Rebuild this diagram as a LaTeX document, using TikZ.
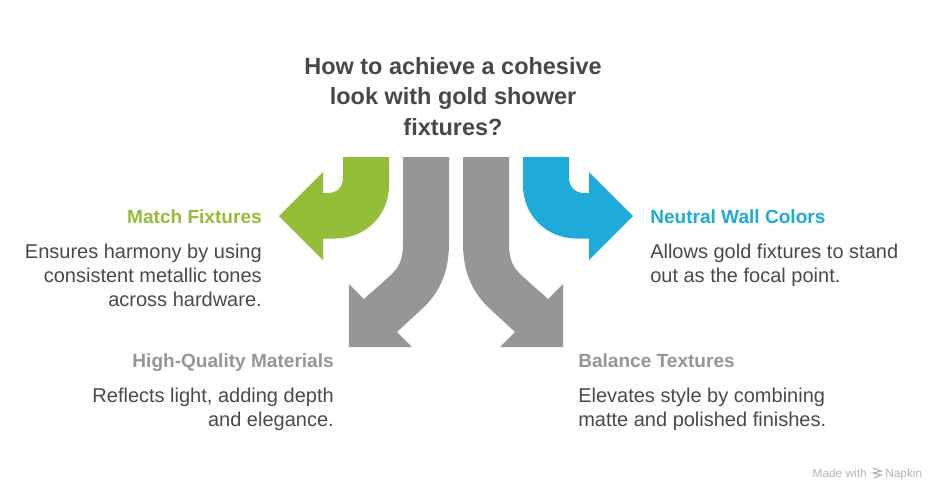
\documentclass[tikz,border=0pt]{standalone}
\usepackage{fontspec}
\setmainfont{Liberation Sans}
\usetikzlibrary{positioning}
\definecolor{inkdark}{HTML}{484848}
\definecolor{inkbody}{HTML}{4A4A4A}
\definecolor{goldgreen}{HTML}{94BE37}
\definecolor{wallblue}{HTML}{1EABDA}
\definecolor{midgray}{HTML}{969696}
\definecolor{markgray}{HTML}{B4B4B4}
\begin{document}
\begin{tikzpicture}[x=0.75pt,y=-0.75pt,
 title/.style={font=\fontsize{17.6}{23}\selectfont\bfseries,text=inkdark,align=center,inner sep=0pt},
 head/.style={font=\fontsize{14.3}{18}\selectfont\bfseries,inner sep=0pt},
 body/.style={font=\fontsize{15}{18}\selectfont,text=inkbody,inner sep=0pt},
 band/.style={fill,draw=none}]
\useasboundingbox (0,0) rectangle (936,490);
\fill[white] (0,0) rectangle (936,490);
\node[title,anchor=north] (ttl) at (453,57) {How to achieve a cohesive\\look with gold shower\\fixtures?};
% four arrows
\path[band,goldgreen] (343,157) -- (343,178) .. controls (343,187) and (337,193) .. (328,193) -- (323,193) -- (323,172) -- (279,216) -- (323,260) -- (323,238.5) -- (335,238.5) .. controls (366,238.5) and (389,215) .. (389,185) -- (389,157) -- cycle;
\path[band,wallblue] (569,157) -- (569,178) .. controls (569,187) and (575,193) .. (584,193) -- (589,193) -- (589,172) -- (633,216) -- (589,260) -- (589,238.5) -- (577,238.5) .. controls (546,238.5) and (523,215) .. (523,185) -- (523,157) -- cycle;
\path[band,midgray] (403,157) -- (403,243) .. controls (403,256) and (401,265) .. (392,274) -- (364,299) -- (349,284) -- (349,347) -- (412,347) -- (397,332) -- (425,306) .. controls (441,290) and (449,270) .. (449,243) -- (449,157) -- cycle;
\path[band,midgray] (509,157) -- (509,243) .. controls (509,256) and (511,265) .. (520,274) -- (548,299) -- (563,284) -- (563,347) -- (500,347) -- (515,332) -- (487,306) .. controls (471,290) and (463,270) .. (463,243) -- (463,157) -- cycle;
% left column
\node[head,text=goldgreen,anchor=base east] (mh) at (262,223) {Match Fixtures};
\node[body,align=right,anchor=north east] (mb) at (262,244) {Ensures harmony by using\\consistent metallic tones\\across hardware.};
\node[head,text=midgray,anchor=base east] (qh) at (334,367) {High-Quality Materials};
\node[body,align=right,anchor=north east] (qb) at (334,388) {Reflects light, adding depth\\and elegance.};
% right column
\node[head,text=wallblue,anchor=base west] (nh) at (650,223) {Neutral Wall Colors};
\node[body,align=left,anchor=north west] (nb) at (650,244) {Allows gold fixtures to stand\\out as the focal point.};
\node[head,text=midgray,anchor=base west] (bh) at (578,367) {Balance Textures};
\node[body,align=left,anchor=north west] (bb) at (578,388) {Elevates style by combining\\matte and polished finishes.};
% footer
\node[font=\fontsize{8.9}{10}\selectfont,text=markgray,anchor=base east,inner sep=0pt] (mw) at (867,477) {Made with};
\node[font=\fontsize{8.9}{10}\selectfont,text=markgray,anchor=base west,inner sep=0pt] (nk) at (885,477) {Napkin};
\draw[markgray,line width=0.9pt] (873,468) -- (881,471) -- (873,473) -- (881,475) -- (874,478);
\end{tikzpicture}
\end{document}
